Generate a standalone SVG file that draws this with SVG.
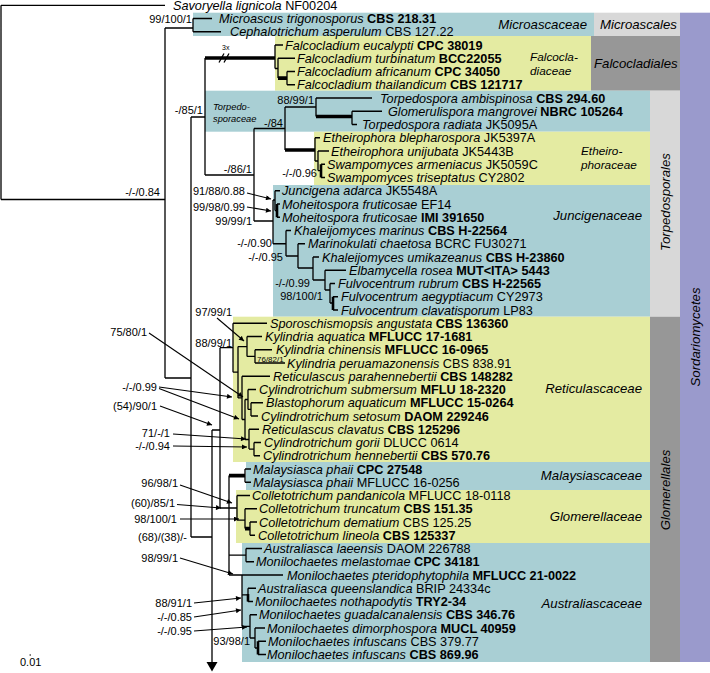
<svg xmlns="http://www.w3.org/2000/svg" width="710" height="673" viewBox="0 0 710 673">
<style>
text{font-family:"Liberation Sans",Arial,sans-serif;fill:#000}
.t{font-size:12.7px}
.i{font-style:italic}
.b{font-weight:bold}
.s{font-size:11px}
.f{font-size:13.2px;font-style:italic}
.f2{font-size:11.8px;font-style:italic}
.sm{font-size:9.3px;font-style:italic}
.ln{stroke:#000;stroke-width:1.3;fill:none}
.tk{stroke:#000;stroke-width:3.6;fill:none}
.tk2{stroke:#000;stroke-width:2.6;fill:none}
.ar{stroke:#000;stroke-width:1.1;fill:none;marker-end:url(#ah)}
.teal{fill:#a9cfd4}
.yel{fill:#e4eba2}
.lg{fill:#d8d8d8}
.dg{fill:#979797}
.pu{fill:#9a9acc}
</style>
<defs>
<marker id="ah" viewBox="0 0 10 10" refX="10" refY="5" markerWidth="6" markerHeight="5" orient="auto" markerUnits="userSpaceOnUse"><path d="M0,0 L10,5 L0,10 z" fill="#000"/></marker>
</defs>
<rect width="710" height="673" fill="#fff"/>
<g id="bands">
<rect class="pu" x="680" y="12.7" width="30" height="649.3"/>
<rect class="lg" x="594" y="12.7" width="86" height="23.3"/>
<rect class="dg" x="591" y="36" width="89" height="54.7"/>
<rect class="lg" x="650" y="90.7" width="30" height="226"/>
<rect class="dg" x="650" y="316.7" width="30" height="345.3"/>
<rect class="teal" x="193" y="12.7" width="401" height="23.3"/>
<rect class="yel" x="275" y="36" width="316" height="54.7"/>
<rect class="teal" x="205" y="90.7" width="445" height="41"/>
<rect class="yel" x="314" y="131.7" width="336" height="53.3"/>
<rect class="teal" x="273" y="185" width="377" height="131.7"/>
<rect class="yel" x="233" y="316.7" width="417" height="145.3"/>
<rect class="teal" x="246" y="462" width="404" height="28"/>
<rect class="yel" x="236" y="490" width="414" height="53"/>
<rect class="teal" x="242" y="543" width="408" height="119"/>
</g>
<g id="group-labels">
<text class="f" x="587" y="28.5" text-anchor="end">Microascaceae</text>
<text class="f" x="600" y="28.5">Microascales</text>
<text class="f2" x="530" y="61">Falcocla-</text>
<text class="f2" x="530" y="74.5">diaceae</text>
<text class="f" x="594" y="67.5">Falcocladiales</text>
<text class="sm" x="213" y="110">Torpedo-</text>
<text class="sm" x="213" y="121.6">sporaceae</text>
<text class="f2" x="581" y="155">Etheiro-</text>
<text class="f2" x="581" y="168.5">phoraceae</text>
<text class="f" x="642" y="219.5" text-anchor="end">Juncigenaceae</text>
<text class="f" x="642" y="392.5" text-anchor="end">Reticulascaceae</text>
<text class="f" x="642" y="479.5" text-anchor="end">Malaysiascaceae</text>
<text class="f" x="642" y="520.5" text-anchor="end">Glomerellaceae</text>
<text class="f" x="642" y="607.5" text-anchor="end">Australiascaceae</text>
<text class="f" transform="translate(669.5,202) rotate(-90)" text-anchor="middle">Torpedosporales</text>
<text class="f" transform="translate(669.5,490) rotate(-90)" text-anchor="middle">Glomerellales</text>
<text class="f" transform="translate(699.5,337) rotate(-90)" text-anchor="middle">Sordariomycetes</text>
</g>
<g id="connectors">
<path class="ln" d="M1,5.3 V199.5 M1,5.3 H165 M1,199.5 H165 M165,28 V378 M165,28 H193 M193,18.5 V31.75 M193,18.5 H212 M193,31.75 H221 M165,378 H191 M191,117 V537 M191,117 H205 M205,58 V175"/>
<path class="ln" d="M275,45 V68.5 M275,45 H283 M275,68.5 H278 M278,58.25 V78.1 M278,58.25 H295 M287,71.5 V84.75 M287,71.5 H295 M287,84.75 H295"/>
<path class="tk" d="M205,58 H275 M278,78.1 H287"/>
<path class="ln" d="M219,62.5 L224,53.5 M224,62.5 L229,53.5"/>
<path class="ln" d="M205,175 H254 M254,128.5 V221 M254,128.5 H285 M285,107 V150 M285,107 H316 M316,98 V116.5 M316,98 H372 M352,111.25 V124.5 M352,111.25 H382 M352,124.5 H357"/>
<path class="tk" d="M316,116.5 H352 M285,150 H315"/>
<path class="ln" d="M315,137.75 V161 M315,137.75 H320 M315,161 H318 M318,151 V170.6 M318,151 H329 M318,170.6 H321 M321,164.25 H325 M321,177.5 H325"/>
<path class="tk2" d="M321,164.25 V177.5"/>
<path class="ln" d="M254,221 H273 M273,200 V243.75 M273,200 H275 M275,190.75 V210.6 M275,190.75 H280 M275,210.6 H277 M277,204 H280 M277,217.25 H280 M273,243.75 H286 M286,230.5 V256 M286,230.5 H291 M286,256 H298 M298,243.75 V268 M298,243.75 H305 M298,268 H313 M313,257 V280 M313,257 H319 M313,280 H325 M325,270.25 V290 M325,270.25 H346 M325,290 H330 M330,283.5 V303 M330,283.5 H335 M330,303 H333 M333,296.75 H338 M333,310 H338"/>
<path class="tk2" d="M277,204 V217.25 M333,296.75 V310"/>
<path class="ln" d="M191,537 H212 M212,430 V664 M212,430 H220 M220,347.7 V508 M220,347.7 H233 M233,323.25 V372.2 M233,323.25 H267 M233,372.2 H238 M238,346.6 V397.9 M238,346.6 H247 M247,336.5 V356.4 M247,336.5 H262 M247,356.4 H255 M255,349.75 V363 M255,349.75 H272 M255,363 H285 M238,397.9 H242 M242,376.25 V419.5 M242,376.25 H270 M242,419.5 H245 M245,399.5 V439.5 M245,399.5 H248 M248,389.5 V409.4 M248,389.5 H256 M248,409.4 H251 M251,402.75 V416 M251,402.75 H263 M251,416 H258 M245,439.5 H249 M249,429.25 V449.1 M249,429.25 H259 M249,449.1 H254 M254,442.5 V455.75 M254,442.5 H261 M254,455.75 H260"/>
<path d="M206.5,662 L217.5,662 L212,671.5 z" fill="#000"/>
<path class="ln" d="M220,508 H237 M229,475.6 V575 M245,469 V482.25 M245,469 H251 M245,482.25 H251 M237,495.5 V520.1 M237,495.5 H250 M237,520.1 H245 M245,508.75 V528.6 M245,508.75 H257 M250,522 V535.25 M250,522 H257 M250,535.25 H255 M229,555.1 H246 M246,548.5 V561.75 M246,548.5 H262 M246,561.75 H254 M229,575 H283 M242,575 V626.4 M242,594.9 H248 M248,588.25 V601.5 M248,588.25 H256 M248,601.5 H253 M242,626.4 H250 M250,614.75 V638 M250,614.75 H257 M250,638 H255 M255,628 V648 M255,628 H265 M255,648 H258 M258,641.25 H266 M258,654.5 H266"/>
<path class="tk" d="M229,475.6 H245 M245,528.6 H250"/>
<path class="tk2" d="M248,594 V601.5 M258,641.25 V654.5"/>
<path class="ar" d="M217,318 L244,341"/>
<path class="ar" d="M149,333 L243,397"/>
<path class="ar" d="M159,387 L232,397"/>
<path class="ar" d="M159,388.5 L239,419"/>
<path class="ar" d="M160,406 L212,425"/>
<path class="ar" d="M173,434 L246,439"/>
<path class="ar" d="M173,446 L247,447"/>
<path class="ar" d="M180,485 L232,503"/>
<path class="ar" d="M177,504.5 L221,508"/>
<path class="ar" d="M180,519 L239,519"/>
<path class="ar" d="M180,558 L233,574"/>
<path class="ar" d="M194,603 L241,598"/>
<path class="ar" d="M194,617 L241,610"/>
<path class="ar" d="M194,631 L247,627"/>
<path class="ar" d="M247,193 L271,199"/>
<path class="ar" d="M247,207 L271,211"/>
<path d="M29.5,655 H31" stroke="#000" stroke-width="1.2"/>
</g>
<g id="support-labels" class="s">
<text x="192" y="23" text-anchor="end">99/100/1</text>
<text x="203" y="114" text-anchor="end">-/85/1</text>
<text x="160" y="196" text-anchor="end">-/-/0.84</text>
<text x="314" y="104" text-anchor="end">88/99/1</text>
<text x="283" y="126.5" text-anchor="end">-/84</text>
<text x="252" y="173" text-anchor="end">-/86/1</text>
<text x="317" y="177" text-anchor="end">-/-/0.96</text>
<text x="245" y="195" text-anchor="end">91/88/0.88</text>
<text x="245" y="211" text-anchor="end">99/98/0.99</text>
<text x="252" y="225" text-anchor="end">99/99/1</text>
<text x="272" y="247" text-anchor="end">-/-/0.90</text>
<text x="283" y="261" text-anchor="end">-/-/0.95</text>
<text x="310" y="287" text-anchor="end">-/-/0.99</text>
<text x="323" y="299.5" text-anchor="end">98/100/1</text>
<text x="232" y="316" text-anchor="end">97/99/1</text>
<text x="232" y="347" text-anchor="end">88/99/1</text>
<text x="257" y="361.5" style="font-size:8px">76/82/1</text>
<text x="147" y="336" text-anchor="end">75/80/1</text>
<text x="157" y="391" text-anchor="end">-/-/0.99</text>
<text x="157" y="410" text-anchor="end">(54)/90/1</text>
<text x="170" y="437" text-anchor="end">71/-/1</text>
<text x="170" y="450" text-anchor="end">-/-/0.94</text>
<text x="178" y="487" text-anchor="end">96/98/1</text>
<text x="175" y="507" text-anchor="end">(60)/85/1</text>
<text x="177" y="523" text-anchor="end">98/100/1</text>
<text x="187" y="541" text-anchor="end">(68)/(38)/-</text>
<text x="178" y="562" text-anchor="end">98/99/1</text>
<text x="192" y="607" text-anchor="end">88/91/1</text>
<text x="192" y="621" text-anchor="end">-/-/0.85</text>
<text x="192" y="635" text-anchor="end">-/-/0.95</text>
<text x="250" y="645" text-anchor="end">93/98/1</text>
<text x="222" y="50" style="font-size:7px">3x</text>
<text x="20" y="666">0.01</text>
</g>
<g class="t">
<g id="n00"><text x="173" y="9.9"><tspan class="i">Savoryella lignicola</tspan> NF00204</text></g>
<g id="n01"><text x="219" y="23.1"><tspan class="i">Microascus trigonosporus</tspan> <tspan class="b">CBS 218.31</tspan></text></g>
<g id="n02"><text x="230" y="36.35"><tspan class="i">Cephalotrichum asperulum</tspan> CBS 127.22</text></g>
<g id="n03"><text x="285" y="49.6"><tspan class="i">Falcocladium eucalypti</tspan> <tspan class="b">CPC 38019</tspan></text></g>
<g id="n04"><text x="297" y="62.85"><tspan class="i">Falcocladium turbinatum</tspan> <tspan class="b">BCC22055</tspan></text></g>
<g id="n05"><text x="297" y="76.1"><tspan class="i">Falcocladium africanum</tspan> <tspan class="b">CPC 34050</tspan></text></g>
<g id="n06"><text x="297" y="89.35"><tspan class="i">Falcocladium thailandicum</tspan> <tspan class="b">CBS 121717</tspan></text></g>
<g id="n07"><text x="380" y="102.6"><tspan class="i">Torpedospora ambispinosa</tspan> <tspan class="b">CBS 294.60</tspan></text></g>
<g id="n08"><text x="388" y="115.85"><tspan class="i">Glomerulispora mangrovei</tspan> <tspan class="b">NBRC 105264</tspan></text></g>
<g id="n09"><text x="362" y="129.1"><tspan class="i">Torpedospora radiata</tspan> JK5095A</text></g>
<g id="n10"><text x="323" y="142.35"><tspan class="i">Etheirophora blepharospora</tspan> JK5397A</text></g>
<g id="n11"><text x="331" y="155.6"><tspan class="i">Etheirophora unijubata</tspan> JK5443B</text></g>
<g id="n12"><text x="327" y="168.85"><tspan class="i">Swampomyces armeniacus</tspan> JK5059C</text></g>
<g id="n13"><text x="327" y="182.1"><tspan class="i">Swampomyces triseptatus</tspan> CY2802</text></g>
<g id="n14"><text x="282" y="195.35"><tspan class="i">Juncigena adarca</tspan> JK5548A</text></g>
<g id="n15"><text x="282" y="208.6"><tspan class="i">Moheitospora fruticosae</tspan> EF14</text></g>
<g id="n16"><text x="282" y="221.85"><tspan class="i">Moheitospora fruticosae</tspan> <tspan class="b">IMI 391650</tspan></text></g>
<g id="n17"><text x="294" y="235.1"><tspan class="i">Khaleijomyces marinus</tspan> <tspan class="b">CBS H-22564</tspan></text></g>
<g id="n18"><text x="308" y="248.35"><tspan class="i">Marinokulati chaetosa</tspan> BCRC FU30271</text></g>
<g id="n19"><text x="322" y="261.6"><tspan class="i">Khaleijomyces umikazeanus</tspan> <tspan class="b">CBS H-23860</tspan></text></g>
<g id="n20"><text x="349" y="274.85"><tspan class="i">Elbamycella rosea</tspan> <tspan class="b">MUT&lt;ITA&gt; 5443</tspan></text></g>
<g id="n21"><text x="338" y="288.1"><tspan class="i">Fulvocentrum rubrum</tspan> <tspan class="b">CBS H-22565</tspan></text></g>
<g id="n22"><text x="341" y="301.35"><tspan class="i">Fulvocentrum aegyptiacum</tspan> CY2973</text></g>
<g id="n23"><text x="341" y="314.6"><tspan class="i">Fulvocentrum clavatisporum</tspan> LP83</text></g>
<g id="n24"><text x="270" y="327.85"><tspan class="i">Sporoschismopsis angustata</tspan> <tspan class="b">CBS 136360</tspan></text></g>
<g id="n25"><text x="265" y="341.1"><tspan class="i">Kylindria aquatica</tspan> <tspan class="b">MFLUCC 17-1681</tspan></text></g>
<g id="n26"><text x="276" y="354.35"><tspan class="i">Kylindria chinensis</tspan> <tspan class="b">MFLUCC 16-0965</tspan></text></g>
<g id="n27"><text x="287" y="367.6"><tspan class="i">Kylindria peruamazonensis</tspan> CBS 838.91</text></g>
<g id="n28"><text x="273" y="380.85"><tspan class="i">Reticulascus parahennebertii</tspan> <tspan class="b">CBS 148282</tspan></text></g>
<g id="n29"><text x="259" y="394.1"><tspan class="i">Cylindrotrichum submersum</tspan> <tspan class="b">MFLU 18-2320</tspan></text></g>
<g id="n30"><text x="266" y="407.35"><tspan class="i">Blastophorum aquaticum</tspan> <tspan class="b">MFLUCC 15-0264</tspan></text></g>
<g id="n31"><text x="261" y="420.6"><tspan class="i">Cylindrotrichum setosum</tspan> <tspan class="b">DAOM 229246</tspan></text></g>
<g id="n32"><text x="262" y="433.85"><tspan class="i">Reticulascus clavatus</tspan> <tspan class="b">CBS 125296</tspan></text></g>
<g id="n33"><text x="264" y="447.1"><tspan class="i">Cylindrotrichum gorii</tspan> DLUCC 0614</text></g>
<g id="n34"><text x="263" y="460.35"><tspan class="i">Cylindrotrichum hennebertii</tspan> <tspan class="b">CBS 570.76</tspan></text></g>
<g id="n35"><text x="253" y="473.6"><tspan class="i">Malaysiasca phaii</tspan> <tspan class="b">CPC 27548</tspan></text></g>
<g id="n36"><text x="253" y="486.85"><tspan class="i">Malaysiasca phaii</tspan> MFLUCC 16-0256</text></g>
<g id="n37"><text x="252" y="500.1"><tspan class="i">Colletotrichum pandanicola</tspan> MFLUCC 18-0118</text></g>
<g id="n38"><text x="259" y="513.35"><tspan class="i">Colletotrichum truncatum</tspan> <tspan class="b">CBS 151.35</tspan></text></g>
<g id="n39"><text x="259" y="526.6"><tspan class="i">Colletotrichum dematium</tspan> CBS 125.25</text></g>
<g id="n40"><text x="258" y="539.85"><tspan class="i">Colletotrichum lineola</tspan> <tspan class="b">CBS 125337</tspan></text></g>
<g id="n41"><text x="264" y="553.1"><tspan class="i">Australiasca laeensis</tspan> DAOM 226788</text></g>
<g id="n42"><text x="256" y="566.35"><tspan class="i">Monilochaetes melastomae</tspan> <tspan class="b">CPC 34181</tspan></text></g>
<g id="n43"><text x="287" y="579.6"><tspan class="i">Monilochaetes pteridophytophila</tspan> <tspan class="b">MFLUCC 21-0022</tspan></text></g>
<g id="n44"><text x="258" y="592.85"><tspan class="i">Australiasca queenslandica</tspan> BRIP 24334c</text></g>
<g id="n45"><text x="255" y="606.1"><tspan class="i">Monilochaetes nothapodytis</tspan> <tspan class="b">TRY2-34</tspan></text></g>
<g id="n46"><text x="259" y="619.35"><tspan class="i">Monilochaetes guadalcanalensis</tspan> <tspan class="b">CBS 346.76</tspan></text></g>
<g id="n47"><text x="267" y="632.6"><tspan class="i">Monilochaetes dimorphospora</tspan> <tspan class="b">MUCL 40959</tspan></text></g>
<g id="n48"><text x="268" y="645.85"><tspan class="i">Monilochaetes infuscans</tspan> CBS 379.77</text></g>
<g id="n49"><text x="267" y="659.1"><tspan class="i">Monilochaetes infuscans</tspan> <tspan class="b">CBS 869.96</tspan></text></g>
</g>
</svg>
